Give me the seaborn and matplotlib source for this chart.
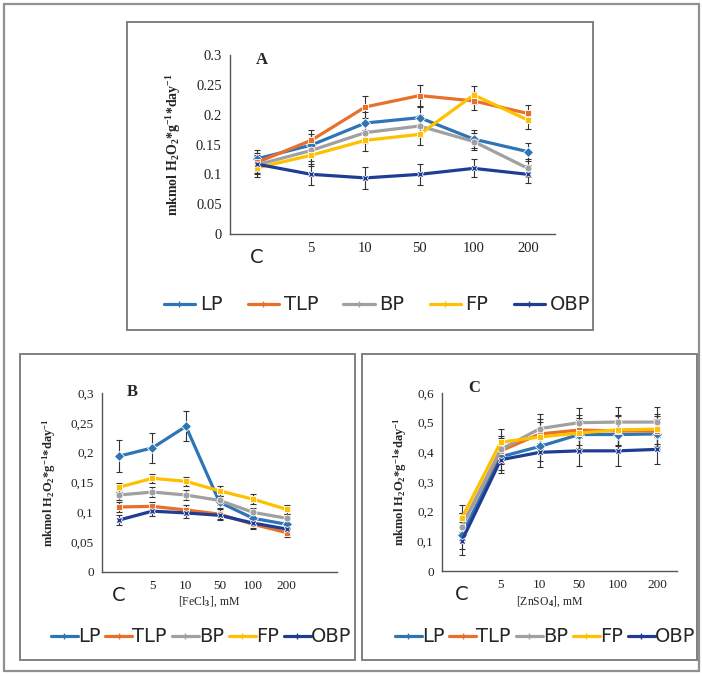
import numpy as np
import pandas as pd
import matplotlib
matplotlib.use("Agg")
import matplotlib.pyplot as plt
from matplotlib.patches import Rectangle
import seaborn as sns

# ---------------- data ----------------
series = ["LP", "TLP", "BP", "FP", "OBP"]
cats = ["C", "5", "10", "50", "100", "200"]

a_LP = [0.126, 0.149, 0.186, 0.195, 0.159, 0.138]
a_TLP = [0.120, 0.157, 0.213, 0.232, 0.223, 0.202]
a_BP = [0.116, 0.140, 0.170, 0.181, 0.155, 0.110]
a_FP = [0.111, 0.132, 0.157, 0.167, 0.233, 0.191]
a_OBP = [0.117, 0.100, 0.094, 0.100, 0.110, 0.100]
a_err = [0.015, 0.018, 0.018, 0.018, 0.015, 0.015]

b_LP = [0.194, 0.208, 0.244, 0.117, 0.090, 0.080]
b_TLP = [0.109, 0.110, 0.104, 0.097, 0.080, 0.066]
b_BP = [0.129, 0.134, 0.129, 0.120, 0.100, 0.090]
b_FP = [0.142, 0.157, 0.152, 0.136, 0.122, 0.105]
b_OBP = [0.087, 0.102, 0.099, 0.095, 0.082, 0.072]
b_err_LP = [0.027, 0.025, 0.025, 0.010, 0.008, 0.008]
b_err = [0.008, 0.008, 0.008, 0.008, 0.008, 0.008]

c_LP = [0.120, 0.385, 0.420, 0.460, 0.460, 0.462]
c_TLP = [0.150, 0.405, 0.462, 0.475, 0.472, 0.472]
c_BP = [0.150, 0.410, 0.480, 0.500, 0.502, 0.502]
c_FP = [0.177, 0.434, 0.452, 0.465, 0.476, 0.478]
c_OBP = [0.100, 0.375, 0.400, 0.405, 0.405, 0.410]
c_err = [0.045, 0.045, 0.050, 0.050, 0.050, 0.050]

colors = {"LP": "#2E75B6", "TLP": "#E8702A", "BP": "#A0A0A0",
          "FP": "#FFC000", "OBP": "#1F3D94"}
markers = {"LP": "D", "TLP": "s", "BP": "o", "FP": "s", "OBP": "X"}

ylabel = r"mkmol H$_2$O$_2$*g$^{-1}$*day$^{-1}$"


def make_df(vals):
    rows = []
    for name, v in zip(series, vals):
        for i, y in enumerate(v):
            rows.append({"pos": i, "val": y, "series": name})
    return pd.DataFrame(rows)


sns.set_theme(style="white")
plt.rcParams["font.family"] = ["DejaVu Sans"]
plt.rcParams["mathtext.fontset"] = "custom"
plt.rcParams["mathtext.rm"] = "Liberation Serif:bold"
plt.rcParams["mathtext.it"] = "Liberation Serif:bold"
plt.rcParams["mathtext.bf"] = "Liberation Serif:bold"

fig = plt.figure(figsize=(7.02, 6.76), dpi=100)
W, H = 702.0, 676.0


def frect(x0, y0, x1, y1, lw=1.4, ec="#808080"):
    fig.add_artist(Rectangle((x0 / W, 1 - y1 / H), (x1 - x0) / W, (y1 - y0) / H,
                             transform=fig.transFigure, fill=False,
                             edgecolor=ec, linewidth=lw))


frect(4, 4, 699, 671, lw=1.6, ec="#909090")
frect(127, 22, 593, 330)
frect(20, 354, 355, 660)
frect(362, 354, 697, 660)


def panel(rect_px, vals, errs, ymax, ystep, yfmt, letter, letter_xy,
          n_ticks, tick_fs, ylab_x, ylab_fs, xlabel=None, xlabel_y=None,
          legend_y=None, legend_x=None, compact=False):
    x0, y0, x1, y1 = rect_px
    ax = fig.add_axes([x0 / W, 1 - y1 / H, (x1 - x0) / W, (y1 - y0) / H])
    df = make_df(vals)
    sns.lineplot(data=df, x="pos", y="val", hue="series", style="series",
                 palette=colors, markers=markers, dashes=False,
                 linewidth=2.3, markersize=5, markeredgewidth=0.6,
                 ax=ax, legend=False)
    for name, v, e in zip(series, vals, errs):
        ax.errorbar(range(len(v)), v, yerr=e, fmt="none", ecolor="#333333",
                    elinewidth=0.8, capsize=2.5, capthick=0.8, zorder=1)
    ax.set_xlim(-0.5, n_ticks - 0.5)
    ax.set_ylim(0, ymax)
    yt = np.arange(0, ymax + 1e-9, ystep)
    ax.set_yticks(yt)
    ax.set_yticklabels([yfmt(t) for t in yt], fontfamily="Liberation Serif",
                       fontsize=tick_fs)
    labels = cats + [""] * (n_ticks - len(cats))
    ax.set_xticks(range(n_ticks))
    ax.set_xticklabels(labels, fontfamily="Liberation Serif", fontsize=tick_fs)
    t0 = ax.xaxis.get_major_ticks()[0].label1
    t0.set_fontfamily("DejaVu Sans")
    t0.set_fontsize(14)
    t0.set_color("#222222")
    t0.set_y(-0.03)
    for s in ["top", "right"]:
        ax.spines[s].set_visible(False)
    for s in ["left", "bottom"]:
        ax.spines[s].set_color("#555555")
        ax.spines[s].set_linewidth(1.0)
    ax.tick_params(axis="both", direction="inout", length=6, width=0.9,
                   color="#555555", labelcolor="#222222", pad=3)
    ax.set_xlabel("")
    ax.set_ylabel("")
    fig.text(ylab_x / W, 1 - ((y0 + y1) / 2) / H, ylabel, rotation=90,
             ha="center", va="center", fontfamily="Liberation Serif",
             fontweight="bold", fontsize=ylab_fs)
    fig.text(letter_xy[0] / W, 1 - letter_xy[1] / H, letter,
             fontfamily="Liberation Serif", fontweight="bold", fontsize=12,
             ha="center", va="center")
    if xlabel:
        fig.text(((x0 + x1) / 2 - 10) / W, 1 - xlabel_y / H, xlabel,
                 fontfamily="Liberation Serif", fontsize=8.5, ha="center",
                 va="center")
    handles = [plt.Line2D([], [], color=colors[n], marker="|", markersize=5,
                          linewidth=2.3) for n in series]
    if compact:
        fig.legend(handles, series, loc="center", ncol=5, frameon=False,
                   bbox_to_anchor=(legend_x / W, 1 - legend_y / H),
                   prop={"family": "DejaVu Sans", "size": 14},
                   handlelength=1.4, handletextpad=0.0, columnspacing=0.25,
                   borderpad=0)
    else:
        fig.legend(handles, series, loc="center", ncol=5, frameon=False,
                   bbox_to_anchor=(legend_x / W, 1 - legend_y / H),
                   prop={"family": "DejaVu Sans", "size": 14},
                   handlelength=1.6, handletextpad=0.25, columnspacing=1.3,
                   borderpad=0)
    return ax


def fmt_dot(t):
    s = ("%.2f" % t).rstrip("0").rstrip(".")
    return s if s else "0"


def fmt_comma(t):
    return fmt_dot(t).replace(".", ",")


panel((230, 55, 555, 234), [a_LP, a_TLP, a_BP, a_FP, a_OBP], [a_err] * 5,
      0.3, 0.05, fmt_dot, "A", (262, 60), 6, 10.5, 174, 10,
      legend_y=305, legend_x=377)

panel((102, 393, 337, 572), [b_LP, b_TLP, b_BP, b_FP, b_OBP],
      [b_err_LP, b_err, b_err, b_err, b_err],
      0.3, 0.05, fmt_comma, "B", (132, 392), 7, 9.5, 49, 9,
      xlabel="[FeCl$_3$], mM", xlabel_y=602, legend_y=637, legend_x=201,
      compact=True)

panel((442, 393, 677, 571), [c_LP, c_TLP, c_BP, c_FP, c_OBP], [c_err] * 5,
      0.6, 0.1, fmt_comma, "C", (474, 388), 6, 9.5, 400, 9,
      xlabel="[ZnSO$_4$], mM", xlabel_y=602, legend_y=637, legend_x=545,
      compact=True)

fig.savefig("out.png", dpi=100)
